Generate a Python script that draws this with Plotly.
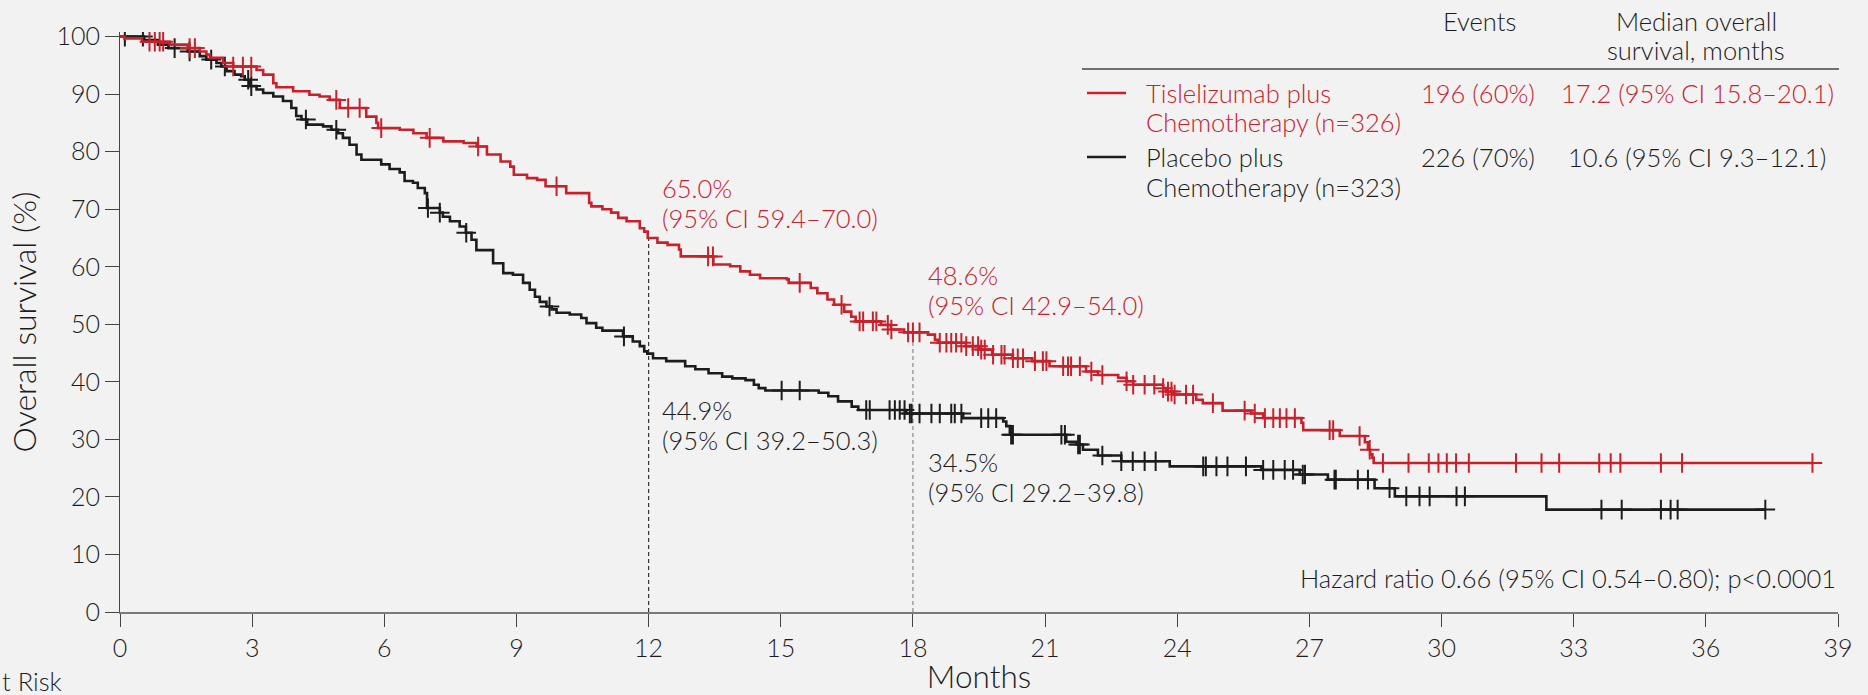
import numpy as np
import plotly.graph_objects as go

# ---------------- data ----------------
red_name = "Tislelizumab plus Chemotherapy"
black_name = "Placebo plus Chemotherapy"

red_times = [0, 0.1, 0.5, 1.13, 1.54, 1.81, 1.96, 2.04, 2.34, 2.57, 3.1, 3.25, 3.48, 3.55, 3.93,
             4.3, 4.53, 4.76, 4.99, 5.59, 5.82, 5.86, 6.35, 6.66, 6.96, 7.34, 7.8, 8.1, 8.33, 8.64,
             8.86, 8.94, 9.24, 9.47, 9.66, 10.13, 10.65, 10.7, 10.95, 11.15, 11.31, 11.5, 11.8, 11.9,
             11.98, 12.2, 12.43, 12.69, 12.73, 13.47, 13.85, 14.08, 14.3, 14.53, 15.14, 15.18, 15.68,
             15.83, 16.06, 16.21, 16.44, 16.6, 16.7, 17.27, 17.5, 17.8, 18.34, 18.5, 18.57, 19.2,
             19.5, 19.8, 20.26, 20.71, 21.1, 21.93, 22.2, 22.66, 22.85, 23.0, 23.68, 23.75, 23.9,
             24.43, 24.58, 25.03, 25.68, 25.95, 26.82, 26.86, 27.69, 28.26, 28.33, 28.38, 28.43, 28.46]
red_surv = [100, 99.7, 99.1, 98.6, 98.0, 97.4, 96.9, 96.3, 95.4, 94.8, 94.2, 93.4, 91.9, 91.2, 90.5,
            89.9, 89.6, 89.0, 87.6, 86.1, 85.0, 84.1, 83.8, 83.2, 82.4, 81.8, 81.5, 80.9, 79.5, 78.3,
            77.4, 76.0, 75.4, 75.1, 74.0, 72.8, 71.1, 70.5, 70.0, 69.4, 68.5, 67.9, 66.7, 66.1,
            65.0, 64.2, 63.8, 63.0, 61.8, 60.4, 60.1, 59.2, 58.6, 58.0, 57.8, 57.2, 56.3,
            55.4, 54.3, 53.4, 52.2, 51.3, 50.5, 49.9, 49.1, 48.6, 48.2, 47.3, 46.8, 46.2,
            45.6, 44.7, 44.1, 43.6, 42.7, 41.8, 41.2, 40.7, 40.1, 39.5, 38.9, 38.3, 37.8,
            36.9, 36.3, 35.0, 34.5, 33.7, 32.9, 31.6, 30.6, 29.5, 28.2, 27.4, 26.8, 25.9]
red_censored = [0.67, 0.79, 0.90, 0.98, 1.58, 1.70, 2.57, 2.79, 2.98, 4.91, 5.18, 5.44, 5.93, 7.03,
                8.13, 9.91, 13.35, 13.46, 15.43, 16.38, 16.79, 16.87, 17.09, 17.17, 17.43, 17.51,
                17.89, 18.0, 18.15, 18.61, 18.76, 18.87, 18.98, 19.10, 19.21, 19.36, 19.48, 19.55,
                19.63, 19.82, 20.01, 20.08, 20.27, 20.38, 20.50, 20.77, 20.95, 21.03, 21.41, 21.52,
                21.59, 21.79, 22.05, 22.3, 22.85, 23.0, 23.26, 23.48, 23.68, 23.79, 23.87, 23.94,
                24.2, 24.36, 24.81, 25.53, 25.76, 25.99, 26.18, 26.33, 26.48, 26.67, 27.46, 27.54,
                28.14, 28.37, 28.67, 29.25, 29.71, 29.93, 30.12, 30.33, 30.62, 31.69, 32.27, 32.67,
                33.58, 33.84, 34.06, 34.98, 35.46, 38.42]

black_times = [0, 0.55, 0.86, 1.1, 1.54, 1.81, 1.96, 2.19, 2.3, 2.42, 2.6, 2.75, 2.83, 2.95, 3.1,
               3.25, 3.48, 3.7, 3.89, 4.0, 4.12, 4.25, 4.61, 4.8, 4.95, 5.06, 5.21, 5.37, 5.48, 5.93,
               6.12, 6.35, 6.46, 6.65, 6.76, 6.92, 6.97, 7.26, 7.33, 7.49, 7.71, 7.85, 7.98, 8.09,
               8.47, 8.7, 8.92, 9.15, 9.3, 9.42, 9.53, 9.68, 9.8, 9.91, 10.21, 10.47, 10.59, 10.81,
               10.95, 11.42, 11.64, 11.8, 11.9, 11.97, 12.1, 12.4, 12.83, 13.06, 13.36, 13.67, 13.9,
               14.2, 14.39, 14.5, 14.65, 15.86, 16.08, 16.3, 16.61, 16.76, 17.85, 19.14, 20.05,
               20.12, 20.2, 21.48, 21.71, 21.86, 22.2, 22.73, 23.83, 25.91, 26.78, 27.42, 28.48,
               28.94, 32.38]
black_surv = [100, 99.4, 98.6, 98.0, 97.4, 96.6, 96.0, 95.4, 94.8, 94.0, 93.4, 93.1, 92.5, 91.4, 90.8,
              90.2, 89.6, 88.8, 87.6, 86.2, 85.6, 84.7, 84.4, 83.8, 83.2, 82.4, 81.2, 79.5, 78.6, 77.8,
              77.0, 76.4, 74.9, 74.6, 73.7, 72.8, 70.2, 69.4, 68.7, 67.9, 67.0, 65.9, 64.7, 62.9,
              60.6, 58.9, 58.6, 57.2, 56.0, 54.8, 53.9, 53.1, 52.6, 52.0, 51.7, 51.1, 50.2, 49.4,
              48.9, 47.9, 47.0, 46.2, 45.3, 44.9, 44.1, 43.6, 42.7, 42.2, 41.5, 40.9, 40.6,
              40.3, 39.5, 38.9, 38.5, 38.1, 37.5, 36.6, 35.7, 35.1, 34.5, 33.7, 33.1,
              32.3, 30.8, 29.6, 29.1, 28.2, 27.2, 26.2, 25.3, 24.7, 23.9, 23.0, 21.5,
              20.1, 17.8]
black_censored = [0.11, 0.52, 1.24, 1.58, 2.07, 2.38, 2.91, 2.98, 4.22, 4.91, 6.99, 7.26, 7.86, 9.75,
                  11.44, 15.02, 15.43, 16.94, 17.02, 17.47, 17.59, 17.7, 17.81, 17.93, 17.97, 18.15,
                  18.42, 18.61, 18.87, 18.95, 19.1, 19.55, 19.71, 19.89, 20.23, 20.27, 21.37, 21.45,
                  21.75, 21.79, 22.3, 22.73, 22.99, 23.26, 23.51, 24.59, 24.65, 24.89, 25.14, 25.56,
                  25.95, 26.18, 26.44, 26.63, 26.85, 26.9, 27.57, 27.6, 28.1, 28.33, 28.82, 29.2,
                  29.5, 29.73, 30.34, 30.53, 33.63, 34.09, 34.98, 35.2, 35.36, 37.35]

landmark_months = [12, 18]
red_landmark = [65.0, 48.6]
black_landmark = [44.9, 34.5]
red_landmark_text = ["65.0%<br>(95% CI 59.4–70.0)", "48.6%<br>(95% CI 42.9–54.0)"]
black_landmark_text = ["44.9%<br>(95% CI 39.2–50.3)", "34.5%<br>(95% CI 29.2–39.8)"]

x_ticks = list(range(0, 40, 3))
y_ticks = list(range(0, 101, 10))

table_header = ["Events", "Median overall", "survival, months"]
red_legend = ["Tislelizumab plus", "Chemotherapy (n=326)", "196 (60%)", "17.2 (95% CI 15.8–20.1)"]
black_legend = ["Placebo plus", "Chemotherapy (n=323)", "226 (70%)", "10.6 (95% CI 9.3–12.1)"]
hazard_text = "Hazard ratio 0.66 (95% CI 0.54–0.80); p<0.0001"

# ---------------- style ----------------
RED = "#C7212C"
BLACK = "#1c1c1c"
BG = "#f2f2f2"
FONT = "Lato"
TXT = 25.5
W, H = 1868, 695
L, R, T, B = 120, 30, 32, 83


def px(x):
    return (x - L) / (W - L - R)


def py(y):
    return (H - B - y) / (H - T - B)


def km_line(times, surv, censored):
    t = np.asarray(times, float)
    s = np.asarray(surv, float)
    end = max(censored[-1], t[-1])
    xs = np.append(t, end)
    ys = np.append(s, s[-1])
    c = np.asarray(censored, float)
    cy = s[np.searchsorted(t, c, side="right") - 1]
    return xs, ys, c, cy


fig = go.Figure()
for name, times, surv, cens, col in [(black_name, black_times, black_surv, black_censored, BLACK),
                                     (red_name, red_times, red_surv, red_censored, RED)]:
    xs, ys, cx, cy = km_line(times, surv, cens)
    fig.add_trace(go.Scatter(x=xs, y=ys, mode="lines", line=dict(color=col, width=2.6, shape="hv"),
                             name=name, showlegend=False, hoverinfo="skip"))
    fig.add_trace(go.Scatter(x=cx, y=cy, mode="markers", name=name + " censored", showlegend=False,
                             marker=dict(symbol="cross-thin", size=14, color=col,
                                         line=dict(color=col, width=2)),
                             hoverinfo="skip"))

shapes = []
dash_colors = ["#333333", "#8a8a8a"]
for m, v, dc in zip(landmark_months, red_landmark, dash_colors):
    shapes.append(dict(type="line", xref="x", yref="y", x0=m, x1=m, y0=0, y1=v,
                       line=dict(color=dc, width=1.2, dash="4px,3px"), layer="below"))

# table separator and legend lines
shapes.append(dict(type="line", xref="paper", yref="paper", x0=px(1082), x1=px(1839),
                   y0=py(69), y1=py(69), line=dict(color="#444444", width=1.5)))
shapes.append(dict(type="line", xref="paper", yref="paper", x0=px(1087), x1=px(1126),
                   y0=py(93), y1=py(93), line=dict(color=RED, width=2.6)))
shapes.append(dict(type="line", xref="paper", yref="paper", x0=px(1087), x1=px(1126),
                   y0=py(157), y1=py(157), line=dict(color=BLACK, width=2.6)))

ann = []


def text(s, x, y, color=BLACK, xanchor="left", size=TXT):
    ann.append(dict(text=s, xref="paper", yref="paper", x=px(x), y=py(y), xanchor=xanchor,
                    yanchor="middle", showarrow=False, align=xanchor if xanchor != "center" else "center",
                    font=dict(family=FONT, size=size, color=color, weight=300)))


# table header
text(table_header[0], 1479, 21, xanchor="center")
text(table_header[1], 1696, 21, xanchor="center")
text(table_header[2], 1696, 50, xanchor="center")
# table rows
text(red_legend[0], 1144, 93, RED)
text(red_legend[1], 1144, 122, RED)
text(red_legend[2], 1478, 93, RED, xanchor="center")
text(red_legend[3], 1697, 93, RED, xanchor="center")
text(black_legend[0], 1144, 157)
text(black_legend[1], 1144, 187)
text(black_legend[2], 1478, 157, xanchor="center")
text(black_legend[3], 1697, 157, xanchor="center")

# landmark labels
red_label_px = [(660, 188, 218), (926, 275, 305)]
black_label_px = [(660, 410, 440), (926, 462, 492)]
for txt, (x, y1, y2) in zip(red_landmark_text, red_label_px):
    a, b = txt.split("<br>")
    text(a, x, y1, RED)
    text(b, x, y2, RED)
for txt, (x, y1, y2) in zip(black_landmark_text, black_label_px):
    a, b = txt.split("<br>")
    text(a, x, y1)
    text(b, x, y2)

text(hazard_text, 1838, 578, xanchor="right")
text("t Risk", 0, 681)

fig.update_layout(
    width=W, height=H,
    margin=dict(l=L, r=R, t=T, b=B, autoexpand=False),
    paper_bgcolor=BG, plot_bgcolor=BG,
    font=dict(family=FONT, size=TXT, color=BLACK, weight=300),
    shapes=shapes, annotations=ann, showlegend=False,
    xaxis=dict(range=[0, 39], tickvals=x_ticks, ticktext=[str(t) for t in x_ticks],
               showline=True, linecolor="#7a7a7a", linewidth=2, ticks="outside", ticklen=13,
               tickwidth=1.3, tickcolor="#444444", showgrid=False, zeroline=False,
               tickfont=dict(family=FONT, size=25, color=BLACK, weight=300),
               title=dict(text="Months", standoff=10,
                          font=dict(family=FONT, size=31.5, color=BLACK, weight=300)),
               automargin=False),
    yaxis=dict(range=[0, 100.8], tickvals=y_ticks, ticktext=[str(t) for t in y_ticks],
               showline=True, linecolor="#444444", linewidth=1.2, ticks="outside", ticklen=14,
               tickwidth=1.2, tickcolor="#444444", showgrid=False, zeroline=False,
               tickfont=dict(family=FONT, size=25, color=BLACK, weight=300),
               title=dict(text="Overall survival (%)", standoff=10,
                          font=dict(family=FONT, size=32, color=BLACK, weight=300)),
               automargin=False),
)

fig.write_html("out.html",
               config={"displayModeBar": False},
               post_script="document.body.style.margin='0';document.body.style.padding='0';"
                           "document.body.style.overflow='hidden';"
                           "document.body.style.background='#f2f2f2';")
